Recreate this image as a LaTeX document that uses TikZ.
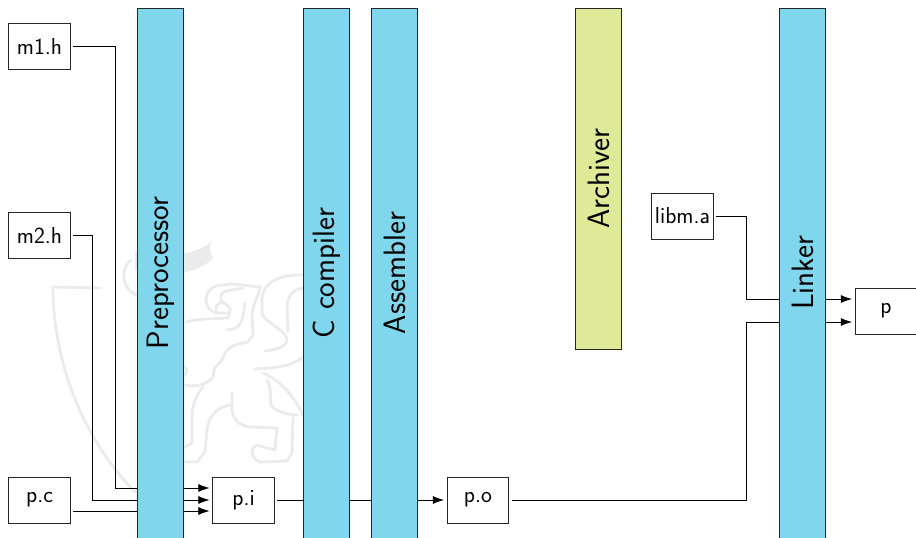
\documentclass[tikz,border=0pt]{standalone}
\usepackage{fontspec}
\usetikzlibrary{arrows.meta}
\definecolor{barblue}{RGB}{128,214,236}
\definecolor{bargreen}{RGB}{222,234,152}
\tikzset{
  filebox/.style={draw=black!85,line width=0.65pt,fill=white,minimum width=46pt,minimum height=34.5pt,inner sep=0pt,outer sep=2.4pt,font=\sffamily\fontsize{17.3}{19}\selectfont},
  toolbar/.style={draw=black!85,line width=0.65pt,minimum width=34.5pt,inner sep=0pt,outer sep=0pt,font=\sffamily\fontsize{23.2}{26}\selectfont},
  bluebar/.style={toolbar,fill=barblue},
  greenbar/.style={toolbar,fill=bargreen},
  wire/.style={draw=black,line width=0.65pt},
  arrowwire/.style={wire,-{Latex[length=8.5pt,width=6pt]}},
  crest/.style={draw=black!8,line width=2.1pt,line cap=round,line join=round}
}
\begin{document}
\begin{tikzpicture}[x=0.75pt,y=-0.75pt]
\useasboundingbox (0,0) rectangle (916,538);
% watermark
\draw[crest] (100,288) -- (53,287) .. controls (53,350) and (75,430) .. (135,492);
\draw[crest] (131,260) .. controls (119,270) and (122,292) .. (140,296);
\fill[black!8] (212,241) .. controls (195,256) and (165,258) .. (135,252) -- (135,270) .. controls (170,280) and (200,272) .. (213,258) .. controls (210,252) and (208,248) .. (212,241) -- cycle;
\draw[crest] (260,287) -- (232,284) -- (222,285) .. controls (212,285) and (206,292) .. (206,300) .. controls (206,307) and (211,312) .. (217,313) -- (228,313) -- (230,312) .. controls (231,308) and (228,305) .. (222,302) .. controls (216,304) and (214,308) .. (217,313);
\draw[crest] (222,302) .. controls (218,297) and (222,290) .. (232,290) -- (243,288);
\draw[crest] (186,322) .. controls (200,318) and (218,319) .. (228,318) -- (230,312);
\draw[crest] (227,330) .. controls (236,330) and (240,326) .. (243,317) -- (245,303);
\draw[crest] (260,287) .. controls (259,296) and (255,298) .. (252,313) -- (253,335) -- (248,342);
\draw[crest] (248,342) .. controls (235,344) and (226,347) .. (223,358) .. controls (220,364) and (216,366) .. (215,367) .. controls (213,372) and (214,376) .. (213,377) .. controls (209,383) and (197,388) .. (185,385);
\draw[crest] (185,367) -- (187,370) -- (185,375);
\draw[crest] (303,275) .. controls (285,274) and (262,280) .. (262,300) -- (262,313) .. controls (264,322) and (285,330) .. (287,338) .. controls (288,347) and (275,350) .. (265,351);
\draw[crest] (303,288) .. controls (292,290) and (287,296) .. (287,310) -- (288,332);
\draw[crest] (303,357) .. controls (295,364) and (282,368) .. (254,369);
\draw[crest] (263,373) .. controls (280,380) and (293,395) .. (303,415);
\draw[crest] (267,380) .. controls (272,388) and (270,400) .. (271,405) .. controls (275,412) and (290,415) .. (298,415);
\draw[crest] (232,393) -- (232,410) .. controls (233,420) and (240,426) .. (250,427) -- (277,428) -- (275,450) -- (263,447) -- (257,445) .. controls (250,448) and (250,458) .. (260,462) -- (287,461) -- (292,453) -- (293,417);
\draw[crest] (203,387) .. controls (195,397) and (192,405) .. (192,420) -- (192,443) -- (185,447);
\draw[crest] (232,405) .. controls (218,406) and (209,415) .. (207,430) -- (205,452) -- (197,462) -- (185,462);
% bars and boxes
\node[bluebar,minimum height=397.5pt] (pre) at (160.5,273) {\rotatebox{90}{Preprocessor}};
\node[bluebar,minimum height=397.5pt] (cc) at (326.6,273) {\rotatebox{90}{C compiler}};
\node[bluebar,minimum height=397.5pt] (as) at (394.6,273) {\rotatebox{90}{Assembler}};
\node[greenbar,minimum height=255.75pt] (ar) at (598.6,178.5) {\rotatebox{90}{Archiver}};
\node[bluebar,minimum height=397.5pt] (ld) at (802.8,273) {\rotatebox{90}{Linker}};
\node[filebox] (m1) at (39.5,46) {m1.h};
\node[filebox] (m2) at (39.5,235) {m2.h};
\node[filebox] (pc) at (39.5,500) {p.c};
\node[filebox] (pi) at (243.5,500) {p.i};
\node[filebox] (po) at (478,500) {p.o};
\node[filebox] (lib) at (682.5,216) {libm.a};
\node[filebox] (pp) at (886,311) {p};
\coordinate (ya) at (0,488);
\coordinate (yb) at (0,500);
\coordinate (yc) at (0,511);
\coordinate (xa) at (115,0);
\coordinate (xb) at (92,0);
\coordinate (xc) at (746.6,0);
\coordinate (yd) at (0,299);
\coordinate (ye) at (0,322);
\draw[wire] (m1.east) -| (xa |- ya) -- (pre.west |- ya);
\draw[wire] (m2.east) -| (xb |- yb) -- (pre.west |- yb);
\draw[wire] (pc.east |- yc) -- (pre.west |- yc);
\draw[arrowwire] (pre.east |- ya) -- (pi.west |- ya);
\draw[arrowwire] (pre.east |- yb) -- (pi.west |- yb);
\draw[arrowwire] (pre.east |- yc) -- (pi.west |- yc);
\draw[wire] (pi.east) -- (cc.west |- pi.east);
\draw[wire] (cc.east |- pi.east) -- (as.west |- pi.east);
\draw[arrowwire] (as.east |- pi.east) -- (po.west);
\draw[wire] (po.east) -| (xc |- ye) -- (ld.west |- ye);
\draw[wire] (lib.east) -| (xc |- yd) -- (ld.west |- yd);
\draw[arrowwire] (ld.east |- yd) -- (pp.west |- yd);
\draw[arrowwire] (ld.east |- ye) -- (pp.west |- ye);
\end{tikzpicture}
\end{document}
